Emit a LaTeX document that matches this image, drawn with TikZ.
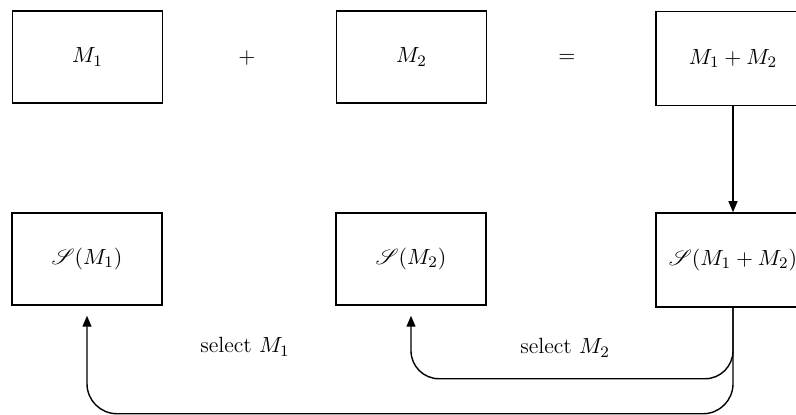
\documentclass[tikz,border=0pt]{standalone}
\usepackage{amsmath}
\usepackage{mathrsfs}
\usetikzlibrary{arrows.meta}
\begin{document}
\begin{tikzpicture}[x=0.5pt,y=-0.5pt,
  box/.style={draw, line width=0.75pt, minimum width=75pt, minimum height=46pt,
    inner sep=0pt, font=\fontsize{11}{13}\selectfont},
  widebox/.style={box, minimum width=77pt, minimum height=47pt},
  lbl/.style={inner sep=1pt, font=\fontsize{11}{13}\selectfont},
  link/.style={line width=0.7pt, -{Triangle[length=5.5pt,width=4.5pt]}},
  feed/.style={link, rounded corners=15pt, shorten >=5pt}
]
  \clip (0,0) rectangle (796,415);
  \fill[white] (0,0) rectangle (796,415);

  % top row: the two models and their sum
  \node[box] (m1) at (87.5,57) {$M_1$};
  \node[lbl] (plus) at (247,58) {$+$};
  \node[box] (m2) at (411.5,57) {$M_2$};
  \node[lbl] (eq) at (567,58) {$=$};
  \node[widebox] (m12) at (733,58.5) {$M_1 + M_2$};

  % bottom row: the corresponding solution sets
  \node[box] (s1) at (87,259) {$\mathscr{S}(M_1)$};
  \node[box] (s2) at (411,259) {$\mathscr{S}(M_2)$};
  \node[widebox] (s12) at (733,260) {$\mathscr{S}(M_1 + M_2)$};

  % solving the combined model
  \draw[link] (m12.south) -- (s12.north);

  % selection back to each component
  \draw[feed, rounded corners=14pt] (s12.south) -- ++(0,71) -| (s2.south);
  \draw[feed] (s12.south) -- ++(0,106) -| (s1.south);

  \node[lbl] (sel1) at (245,347) {select $M_1$};
  \node[lbl] (sel2) at (565,348) {select $M_2$};
\end{tikzpicture}
\end{document}
